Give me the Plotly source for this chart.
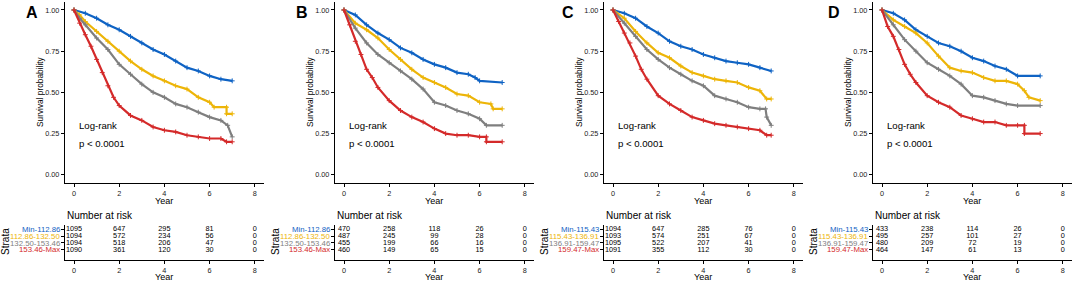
import plotly.graph_objects as go

# ---------------- data ----------------
PANEL_LABELS = ["A", "B", "C", "D"]
STRATA_AB = ["Min-112.86", "112.86-132.50", "132.50-153.46", "153.46-Max"]
STRATA_CD = ["Min-115.43", "115.43-136.91", "136.91-159.47", "159.47-Max"]
RISK_TIMES = [0, 2, 4, 6, 8]
X_TICKS = [0, 2, 4, 6, 8]
Y_TICKS = [0, 0.25, 0.5, 0.75, 1.0]

# Panel A
A_blue_t = [0, 0.5, 1, 1.5, 2, 2.5, 3, 3.5, 4, 4.5, 5, 5.5, 6, 6.5, 7]
A_blue_s = [1.00, 0.98, 0.95, 0.91, 0.88, 0.84, 0.80, 0.76, 0.73, 0.69, 0.65, 0.63, 0.60, 0.58, 0.57]
A_yellow_t = [0, 0.25, 0.5, 1, 1.5, 2, 2.5, 3, 3.5, 4, 4.5, 5, 5.5, 6, 6.2, 6.75, 6.75, 7]
A_yellow_s = [1.00, 0.97, 0.93, 0.87, 0.81, 0.75, 0.69, 0.64, 0.60, 0.57, 0.54, 0.52, 0.47, 0.44, 0.41, 0.41, 0.37, 0.37]
A_gray_t = [0, 0.25, 0.5, 1, 1.5, 2, 2.5, 3, 3.5, 4, 4.5, 5, 5.5, 6, 6.5, 6.8, 7]
A_gray_s = [1.00, 0.95, 0.91, 0.83, 0.76, 0.67, 0.61, 0.55, 0.50, 0.47, 0.43, 0.41, 0.38, 0.35, 0.33, 0.30, 0.23]
A_red_t = [0, 0.25, 0.5, 0.75, 1, 1.25, 1.5, 1.75, 2, 2.5, 3, 3.5, 4, 4.5, 5, 5.5, 6, 6.5, 6.75, 7]
A_red_s = [1.00, 0.92, 0.85, 0.78, 0.70, 0.62, 0.54, 0.47, 0.42, 0.36, 0.33, 0.29, 0.27, 0.26, 0.24, 0.23, 0.22, 0.22, 0.20, 0.20]

# Panel B
B_blue_t = [0, 0.5, 1, 1.5, 2, 2.5, 3, 3.5, 4, 4.5, 5, 5.5, 5.8, 6, 7]
B_blue_s = [1.00, 0.97, 0.91, 0.86, 0.82, 0.77, 0.74, 0.70, 0.67, 0.65, 0.62, 0.61, 0.59, 0.57, 0.56]
B_yellow_t = [0, 0.5, 1, 1.5, 2, 2.5, 3, 3.5, 4, 4.5, 5, 5.5, 6, 6.5, 6.6, 7]
B_yellow_s = [1.00, 0.92, 0.88, 0.83, 0.76, 0.70, 0.64, 0.59, 0.56, 0.53, 0.49, 0.48, 0.44, 0.43, 0.40, 0.40]
B_gray_t = [0, 0.5, 1, 1.5, 2, 2.5, 3, 3.5, 4, 4.5, 5, 5.5, 6, 6.3, 7]
B_gray_s = [1.00, 0.89, 0.80, 0.73, 0.68, 0.63, 0.58, 0.52, 0.44, 0.42, 0.39, 0.37, 0.34, 0.30, 0.30]
B_red_t = [0, 0.25, 0.5, 0.75, 1, 1.25, 1.5, 2, 2.5, 3, 3.5, 4, 4.5, 5, 5.5, 6, 6.3, 6.3, 7]
B_red_s = [1.00, 0.91, 0.81, 0.73, 0.64, 0.59, 0.53, 0.45, 0.39, 0.35, 0.32, 0.28, 0.25, 0.24, 0.24, 0.23, 0.23, 0.20, 0.20]

# Panel C
C_blue_t = [0, 0.5, 1, 1.5, 2, 2.5, 3, 3.5, 4, 4.5, 5, 5.5, 6, 6.5, 7]
C_blue_s = [1.00, 0.98, 0.95, 0.90, 0.86, 0.81, 0.78, 0.76, 0.73, 0.71, 0.69, 0.68, 0.67, 0.65, 0.63]
C_yellow_t = [0, 0.5, 1, 1.5, 2, 2.5, 3, 3.5, 4, 4.5, 5, 5.5, 6, 6.5, 6.8, 7]
C_yellow_s = [1.00, 0.95, 0.87, 0.80, 0.74, 0.71, 0.66, 0.62, 0.60, 0.58, 0.57, 0.56, 0.53, 0.51, 0.46, 0.46]
C_gray_t = [0, 0.5, 1, 1.5, 2, 2.5, 3, 3.5, 4, 4.5, 5, 5.5, 6, 6.5, 6.75, 6.8, 7]
C_gray_s = [1.00, 0.92, 0.84, 0.76, 0.70, 0.65, 0.61, 0.57, 0.54, 0.48, 0.46, 0.44, 0.41, 0.40, 0.40, 0.35, 0.30]
C_red_t = [0, 0.25, 0.5, 0.75, 1, 1.25, 1.5, 2, 2.5, 3, 3.5, 4, 4.5, 5, 5.5, 6, 6.5, 6.8, 7]
C_red_s = [1.00, 0.93, 0.86, 0.80, 0.72, 0.64, 0.58, 0.48, 0.43, 0.39, 0.35, 0.33, 0.31, 0.30, 0.29, 0.28, 0.27, 0.24, 0.24]

# Panel D
D_blue_t = [0, 0.5, 1, 1.5, 2, 2.5, 3, 3.5, 4, 4.5, 5, 5.5, 6, 7]
D_blue_s = [1.00, 0.98, 0.94, 0.88, 0.84, 0.80, 0.78, 0.75, 0.71, 0.69, 0.66, 0.64, 0.60, 0.60]
D_yellow_t = [0, 0.5, 1, 1.5, 2, 2.5, 3, 3.5, 4, 4.5, 5, 5.5, 6, 6.3, 6.5, 7]
D_yellow_s = [1.00, 0.94, 0.90, 0.86, 0.80, 0.72, 0.65, 0.63, 0.62, 0.59, 0.57, 0.57, 0.55, 0.51, 0.47, 0.45]
D_gray_t = [0, 0.5, 1, 1.5, 2, 2.5, 3, 3.5, 4, 4.5, 5, 5.5, 6, 7]
D_gray_s = [1.00, 0.91, 0.82, 0.75, 0.68, 0.64, 0.60, 0.55, 0.48, 0.47, 0.45, 0.43, 0.42, 0.42]
D_red_t = [0, 0.25, 0.5, 0.75, 1, 1.25, 1.5, 2, 2.5, 3, 3.5, 4, 4.5, 5, 5.5, 6, 6.3, 6.3, 7]
D_red_s = [1.00, 0.90, 0.84, 0.76, 0.67, 0.61, 0.56, 0.48, 0.44, 0.41, 0.36, 0.34, 0.32, 0.32, 0.30, 0.30, 0.30, 0.25, 0.25]

# Number at risk (rows: blue, yellow, gray, red)
A_risk = [[1095, 647, 295, 81, 0], [1094, 572, 234, 56, 0], [1094, 518, 206, 47, 0], [1090, 361, 120, 30, 0]]
B_risk = [[470, 258, 118, 26, 0], [487, 245, 99, 28, 0], [455, 199, 66, 16, 0], [460, 149, 65, 15, 0]]
C_risk = [[1094, 647, 285, 76, 0], [1093, 574, 251, 67, 0], [1095, 522, 207, 41, 0], [1091, 355, 112, 30, 0]]
D_risk = [[433, 238, 114, 26, 0], [495, 257, 101, 27, 0], [480, 209, 72, 19, 0], [464, 147, 61, 13, 0]]

# ---------------- styling / layout ----------------
COLORS = ["#0F63C4", "#EDB508", "#7F7F7F", "#D42A2A"]
FONT = "Liberation Sans, Arial, sans-serif"
W, H = 1074, 283

panels = [
    dict(curves=[(A_blue_t, A_blue_s), (A_yellow_t, A_yellow_s), (A_gray_t, A_gray_s), (A_red_t, A_red_s)],
         risk=A_risk, strata=STRATA_AB),
    dict(curves=[(B_blue_t, B_blue_s), (B_yellow_t, B_yellow_s), (B_gray_t, B_gray_s), (B_red_t, B_red_s)],
         risk=B_risk, strata=STRATA_AB),
    dict(curves=[(C_blue_t, C_blue_s), (C_yellow_t, C_yellow_s), (C_gray_t, C_gray_s), (C_red_t, C_red_s)],
         risk=C_risk, strata=STRATA_CD),
    dict(curves=[(D_blue_t, D_blue_s), (D_yellow_t, D_yellow_s), (D_gray_t, D_gray_s), (D_red_t, D_red_s)],
         risk=D_risk, strata=STRATA_CD),
]

TICK0_PX = [74, 344, 613, 882]
LETTER_PX = [32, 302, 568, 834]
PX_PER_YEAR = 22.6
X_RANGE = [-0.4, 8.4]


def px(x):
    return x / W


def py(y):
    return 1 - y / H


fig = go.Figure()
layout = dict(
    width=W, height=H, margin=dict(l=0, r=0, t=0, b=0, pad=0), autosize=False,
    paper_bgcolor="white", plot_bgcolor="white", showlegend=False,
    font=dict(family=FONT, color="#222"),
)
annotations = []

axis_common = dict(showgrid=False, zeroline=False, showline=True, linecolor="black", linewidth=1.1,
                   ticks="outside", ticklen=3, tickcolor="black", tickwidth=1, automargin=False,
                   tickfont=dict(size=7.3, color="#222", family=FONT), fixedrange=True)

for i, p in enumerate(panels):
    t0 = TICK0_PX[i]
    left = t0 + X_RANGE[0] * PX_PER_YEAR
    right = t0 + X_RANGE[1] * PX_PER_YEAR
    xa_c, ya_c = 2 * i + 1, 2 * i + 1
    xa_t, ya_t = 2 * i + 2, 2 * i + 2

    def nm(kind, n):
        return kind if n == 1 else f"{kind}{n}"

    # curve axes
    layout[nm("xaxis", xa_c)] = dict(axis_common, domain=[px(left), px(right)], range=X_RANGE,
                                     tickvals=X_TICKS, anchor=nm("y", ya_c))
    layout[nm("yaxis", ya_c)] = dict(axis_common, domain=[py(183), py(1.75)], range=[-0.05, 1.05],
                                     tickvals=Y_TICKS, tickformat=".2f", anchor=nm("x", xa_c))
    # table axes
    layout[nm("xaxis", xa_t)] = dict(axis_common, domain=[px(left), px(right)], range=X_RANGE,
                                     tickvals=X_TICKS, anchor=nm("y", ya_t))
    layout[nm("yaxis", ya_t)] = dict(axis_common, domain=[py(260), py(224.8)], range=[-0.43, 4.6],
                                     tickvals=[1, 2, 3, 4], ticktext=["", "", "", ""], anchor=nm("x", xa_t))

    xr_c = "x" if xa_c == 1 else f"x{xa_c}"
    yr_c = "y" if ya_c == 1 else f"y{ya_c}"
    xr_t = f"x{xa_t}"
    yr_t = f"y{ya_t}"

    for (t, s), col in zip(p["curves"], COLORS):
        fig.add_trace(go.Scatter(x=t, y=s, mode="lines+markers", xaxis=xr_c, yaxis=yr_c,
                                 line=dict(color=col, width=2.2),
                                 marker=dict(symbol="cross-thin-open", size=3.5, color=col,
                                             line=dict(color=col, width=1)),
                                 hoverinfo="skip"))

    for k, (row, col) in enumerate(zip(p["risk"], COLORS)):
        ypos = 4 - k
        fig.add_trace(go.Scatter(x=RISK_TIMES, y=[ypos] * len(RISK_TIMES), mode="text",
                                 text=[str(v) for v in row], xaxis=xr_t, yaxis=yr_t,
                                 textfont=dict(size=7.3, color="black", family=FONT),
                                 textposition="middle center", hoverinfo="skip", cliponaxis=False))
        annotations.append(dict(x=px(left - 3), y=py(229 + 7 * k), xref="paper", yref="paper",
                                text=p["strata"][k], showarrow=False, xanchor="right", yanchor="middle",
                                font=dict(size=7.8, color=col, family=FONT)))

    # texts
    annotations += [
        dict(x=px(LETTER_PX[i]), y=py(13), xref="paper", yref="paper", text="<b>%s</b>" % PANEL_LABELS[i],
             showarrow=False, xanchor="center", yanchor="middle", font=dict(size=16, color="black", family=FONT)),
        dict(x=px(left - 25), y=py(92), xref="paper", yref="paper", text="Survival probability",
             textangle=-90, showarrow=False, xanchor="center", yanchor="middle",
             font=dict(size=8.3, color="black", family=FONT)),
        dict(x=px(t0 + 4 * PX_PER_YEAR), y=py(201), xref="paper", yref="paper", text="Year",
             showarrow=False, xanchor="center", yanchor="middle", font=dict(size=9, color="black", family=FONT)),
        dict(x=0.13, y=0.30, xref=xr_c, yref=yr_c, text="Log-rank", showarrow=False,
             xanchor="left", yanchor="middle", font=dict(size=9.6, color="black", family=FONT)),
        dict(x=0.13, y=0.19, xref=xr_c, yref=yr_c, text="p < 0.0001", showarrow=False,
             xanchor="left", yanchor="middle", font=dict(size=9.6, color="black", family=FONT)),
        dict(x=px(left), y=py(215), xref="paper", yref="paper", text="Number at risk", showarrow=False,
             xanchor="left", yanchor="middle", font=dict(size=10, color="black", family=FONT)),
        dict(x=px(left - 59), y=py(241), xref="paper", yref="paper", text="Strata", textangle=-90,
             showarrow=False, xanchor="center", yanchor="middle", font=dict(size=10, color="black", family=FONT)),
        dict(x=px(t0 + 4 * PX_PER_YEAR), y=py(277), xref="paper", yref="paper", text="Year",
             showarrow=False, xanchor="center", yanchor="middle", font=dict(size=9, color="black", family=FONT)),
    ]

layout["annotations"] = annotations
fig.update_layout(**layout)
fig.write_html("out.html", config={"displayModeBar": False, "staticPlot": True},
               post_script="document.body.style.margin='0';document.body.style.padding='0';"
                           "document.body.style.overflow='hidden';")
